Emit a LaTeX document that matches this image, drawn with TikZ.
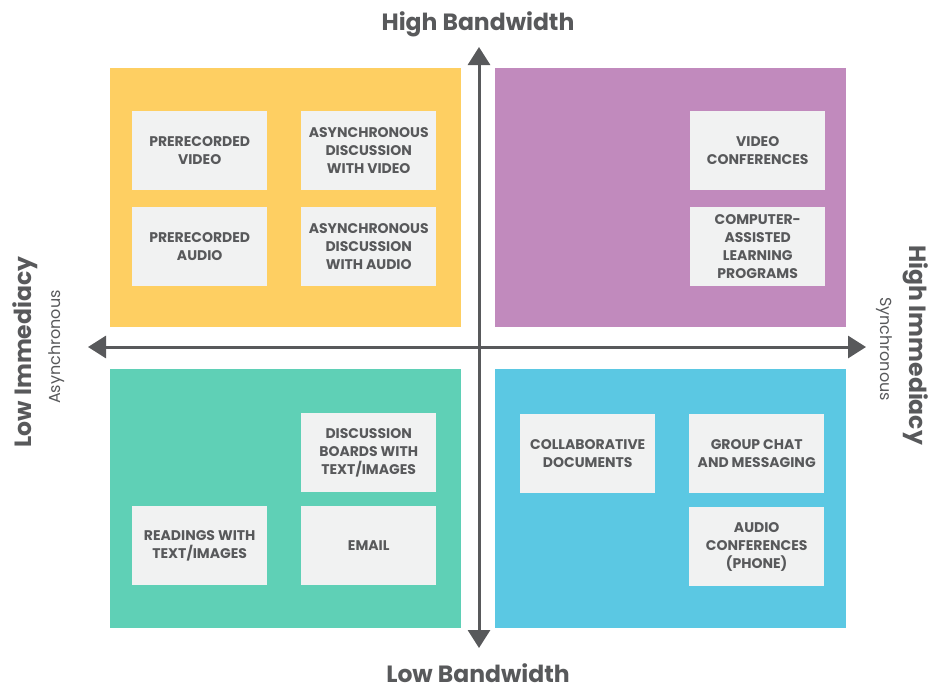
\documentclass[tikz,border=0pt]{standalone}
\usepackage{fontspec}
\setmainfont{Poppins}
\usetikzlibrary{arrows.meta}
\definecolor{ink}{HTML}{58595B}
\definecolor{qyellow}{HTML}{FECF62}
\definecolor{qpurple}{HTML}{C18ABD}
\definecolor{qgreen}{HTML}{5FD0B6}
\definecolor{qblue}{HTML}{5BC8E3}
\definecolor{card}{HTML}{F1F2F2}
\begin{document}
\begin{tikzpicture}[x=1pt,y=1pt,
  cardbox/.style={fill=card,draw=none,minimum width=135pt,minimum height=79pt,inner sep=2pt,
    anchor=north west,align=center,text=ink,font=\fontsize{14}{18}\selectfont\bfseries},
  axis/.style={draw=ink,line width=3pt,{Triangle[width=22pt,length=18pt]}-{Triangle[width=22pt,length=18pt]}},
  bigtitle/.style={text=ink,font=\fontsize{23.5}{26}\selectfont\bfseries,inner sep=0pt},
  subtitle/.style={text=ink,font=\fontsize{16}{18}\selectfont,inner sep=0pt}]
\useasboundingbox (0,0) rectangle (931,-691);
\fill[white] (0,0) rectangle (931,-691);
% quadrants
\fill[qyellow] (110,-68) rectangle (461,-327);
\fill[qpurple] (495,-68) rectangle (846,-327);
\fill[qgreen] (110,-369) rectangle (461,-628);
\fill[qblue] (495,-369) rectangle (846,-628);
% axes
\coordinate (top) at (479,-47);
\coordinate (bot) at (479,-648);
\coordinate (lft) at (88,-347);
\coordinate (rgt) at (866,-347);
\draw[axis] (bot) -- (top);
\draw[axis] (lft) -- (rgt);
% titles
\node[bigtitle,anchor=base] (hb) at (478,-30) {High Bandwidth};
\node[bigtitle,anchor=base] (lb) at (478,-682) {Low Bandwidth};
\node[bigtitle,rotate=90,anchor=base] (li) at (31,-352) {Low Immediacy};
\node[subtitle,rotate=90] (as) at (57,-347) {Asynchronous};
\node[bigtitle,rotate=-90,anchor=base] (hi) at (909,-345) {High Immediacy};
\node[subtitle,rotate=-90] (sy) at (884,-349) {Synchronous};
% yellow cards
\node[cardbox] (b1) at (132,-111) {PRERECORDED\\VIDEO};
\node[cardbox] (b2) at (301,-111) {ASYNCHRONOUS\\DISCUSSION\\WITH VIDEO};
\node[cardbox] (b3) at (132,-207) {PRERECORDED\\AUDIO};
\node[cardbox] (b4) at (301,-207) {ASYNCHRONOUS\\DISCUSSION\\WITH AUDIO};
% purple cards
\node[cardbox] (p1) at (690,-111) {VIDEO\\CONFERENCES};
\node[cardbox] (p2) at (690,-207) {COMPUTER-\\ASSISTED\\LEARNING\\PROGRAMS};
% green cards
\node[cardbox] (g1) at (301,-413) {DISCUSSION\\BOARDS WITH\\TEXT/IMAGES};
\node[cardbox] (g2) at (132,-506) {READINGS WITH\\TEXT/IMAGES};
\node[cardbox] (g3) at (301,-506) {EMAIL};
% blue cards
\node[cardbox] (c1) at (520,-414) {COLLABORATIVE\\DOCUMENTS};
\node[cardbox] (c2) at (689,-414) {GROUP CHAT\\AND MESSAGING};
\node[cardbox] (c3) at (689,-507) {AUDIO\\CONFERENCES\\(PHONE)};
\end{tikzpicture}
\end{document}
